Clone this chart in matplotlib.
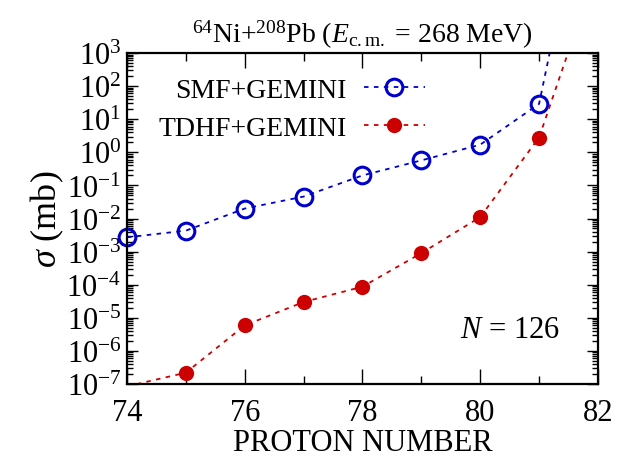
import matplotlib
matplotlib.use("Agg")
import matplotlib.pyplot as plt
import numpy as np
from matplotlib.ticker import LogLocator, MultipleLocator, NullFormatter

plt.rcParams["font.family"] = ["Liberation Serif", "DejaVu Serif"]
plt.rcParams["mathtext.fontset"] = "custom"
plt.rcParams["mathtext.rm"] = "Liberation Serif"
plt.rcParams["mathtext.it"] = "Liberation Serif:italic"

# proton number and cross sections (mb);
# first/last entries lie outside the frame and only steer the clipped lines
z_smf = [74, 75, 76, 77, 78, 79, 80, 81, 82]
sig_smf = [2.7e-3, 4.3e-3, 2.0e-2, 4.6e-2, 0.20, 0.57, 1.7, 29.0, 1.0e10]
z_tdhf = [74, 75, 76, 77, 78, 79, 80, 81, 82]
sig_tdhf = [8.5e-8, 2.2e-7, 5.9e-6, 3.0e-5, 8.7e-5, 9.0e-4, 1.1e-2, 2.8, 4.5e5]

YMIN, YMAX = 1e-7, 1e3
XMIN, XMAX = 74, 82

blue = "#0000cc"
red = "#cc0000"

fig = plt.figure(figsize=(6.33, 4.60), dpi=100)
ax = fig.add_axes([0.2006, 0.163, 0.744, 0.7196])


def draw(z, s, color, filled, label):
    z = np.asarray(z, float)
    s = np.asarray(s, float)
    ax.plot(z, s, color=color, lw=1.3, ls=(0, (2.5, 3)))
    inside = (s >= YMIN) & (s <= YMAX) & (z >= XMIN) & (z <= XMAX)
    style = dict(marker="o", ms=11 if filled else 12,
                 mfc=color if filled else "none", mec=color,
                 mew=0 if filled else 2.2)
    ax.plot(z[inside], s[inside], ls="none", clip_on=False, **style)
    # legend proxy
    ax.plot([], [], color=color, lw=1.3, ls=(0, (2.5, 3)), label=label, **style)


draw(z_smf, sig_smf, blue, False, "SMF+GEMINI")
draw(z_tdhf, sig_tdhf, red, True, "TDHF+GEMINI")

ax.set_yscale("log")
ax.set_xlim(XMIN, XMAX)
ax.set_ylim(YMIN, YMAX)
ax.xaxis.set_major_locator(MultipleLocator(2))
ax.xaxis.set_minor_locator(MultipleLocator(1))
ax.yaxis.set_major_locator(LogLocator(base=10, numticks=20))
ax.yaxis.set_minor_locator(LogLocator(base=10, subs=np.arange(2, 10), numticks=20))
ax.yaxis.set_minor_formatter(NullFormatter())

ax.tick_params(which="both", direction="in", top=True, right=True, labelsize=22, width=1.0)
ax.tick_params(axis="x", which="major", length=11, pad=10)
ax.tick_params(axis="x", which="minor", length=6)
ax.tick_params(axis="y", which="major", length=8, pad=4)
ax.tick_params(axis="y", which="minor", length=4)
for sp in ax.spines.values():
    sp.set_linewidth(1.6)

ax.set_xlabel("PROTON NUMBER", fontsize=22, labelpad=1)
ax.set_ylabel(r"$\sigma$ (mb)", fontsize=26, labelpad=0)
ax.set_title(r"$^{64}$Ni+$^{208}$Pb ($E_{\rm c.m.}$ = 268 MeV)", fontsize=20, pad=8)

ax.text(0.92, 0.165, r"$N$ = 126", transform=ax.transAxes, fontsize=22,
        ha="right", va="center")

ax.legend(loc="upper right", bbox_to_anchor=(0.632, 0.927), frameon=False,
          markerfirst=False, numpoints=1, fontsize=20, handlelength=2.2,
          handletextpad=0.6, labelspacing=0.45, borderpad=0, borderaxespad=0)

fig.savefig("out.png", dpi=100)
